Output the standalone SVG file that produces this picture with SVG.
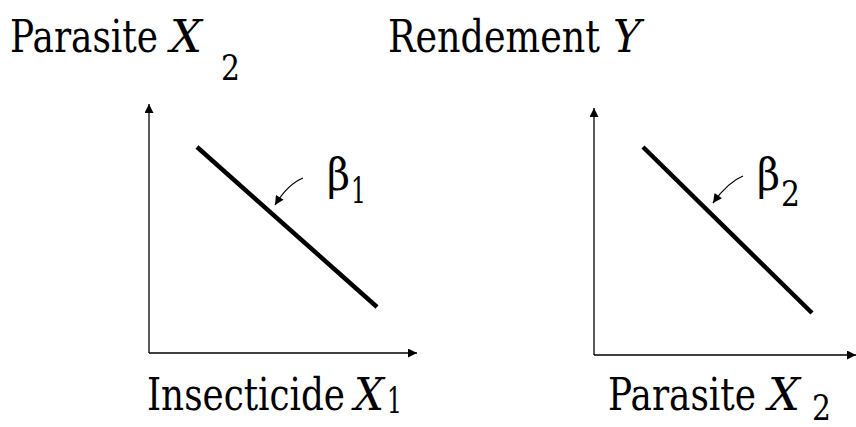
<svg xmlns="http://www.w3.org/2000/svg" width="856" height="427" viewBox="0 0 856 427">
<style>
text{font-family:"DejaVu Serif","Liberation Serif",serif;fill:#000;font-size:44px}
.s{font-size:35px}
.i{font-style:italic}
.axis{stroke:#000;stroke-width:1.3;fill:none}
.slope{stroke:#000;stroke-width:4.5;fill:none}
.pt{stroke:#000;stroke-width:1.3;fill:none}
</style>
<defs>
<marker id="ah" viewBox="0 0 10 10" refX="10" refY="5" markerWidth="12" markerHeight="9" markerUnits="userSpaceOnUse" orient="auto">
<path d="M0,0 L10,5 L0,10 z" fill="#000"/>
</marker>
<marker id="ah2" viewBox="0 0 10 10" refX="10" refY="5" markerWidth="11" markerHeight="9" markerUnits="userSpaceOnUse" orient="auto">
<path d="M0,0 L10,5 L0,10 z" fill="#000"/>
</marker>
</defs>
<g id="label-parasite-top">
<text y="52"><tspan x="10" textLength="148" lengthAdjust="spacingAndGlyphs">Parasite</tspan><tspan class="i" x="170" textLength="32" lengthAdjust="spacingAndGlyphs">X</tspan><tspan class="s" x="221" y="80" textLength="19" lengthAdjust="spacingAndGlyphs">2</tspan></text>
</g>
<g id="label-rendement">
<text y="52"><tspan x="388" textLength="212" lengthAdjust="spacingAndGlyphs">Rendement</tspan><tspan class="i" x="613" textLength="28" lengthAdjust="spacingAndGlyphs">Y</tspan></text>
</g>
<g id="label-insecticide">
<text y="410"><tspan x="147" textLength="198" lengthAdjust="spacingAndGlyphs">Insecticide</tspan><tspan class="i" x="354" textLength="30" lengthAdjust="spacingAndGlyphs">X</tspan><tspan class="s" x="387" y="413" textLength="15" lengthAdjust="spacingAndGlyphs">1</tspan></text>
</g>
<g id="label-parasite-bottom">
<text y="410"><tspan x="608" textLength="148" lengthAdjust="spacingAndGlyphs">Parasite</tspan><tspan class="i" x="768" textLength="32" lengthAdjust="spacingAndGlyphs">X</tspan><tspan class="s" x="812" y="420" textLength="19" lengthAdjust="spacingAndGlyphs">2</tspan></text>
</g>
<g id="plot1">
<line class="slope" x1="197" y1="147" x2="377" y2="307"/>
<text y="190"><tspan x="327" textLength="23" lengthAdjust="spacingAndGlyphs">β</tspan><tspan class="s" x="351" y="203" textLength="15" lengthAdjust="spacingAndGlyphs">1</tspan></text>
</g>
<g id="plot2">
<line class="slope" x1="643" y1="147" x2="812" y2="313"/>
<text y="190"><tspan x="757" textLength="23" lengthAdjust="spacingAndGlyphs">β</tspan><tspan class="s" x="781" y="206" textLength="19" lengthAdjust="spacingAndGlyphs">2</tspan></text>
</g>
<g id="connectors">
<path class="axis" d="M149,353 L149,104" marker-end="url(#ah)"/>
<path class="axis" d="M149,353 L417,353" marker-end="url(#ah)"/>
<path class="axis" d="M594,355 L594,108" marker-end="url(#ah)"/>
<path class="axis" d="M594,355 L856,355" marker-end="url(#ah)"/>
<path class="pt" d="M303,178 Q288,184 275,205" marker-end="url(#ah2)"/>
<path class="pt" d="M743,176 Q728,182 713,203" marker-end="url(#ah2)"/>
</g>
</svg>
